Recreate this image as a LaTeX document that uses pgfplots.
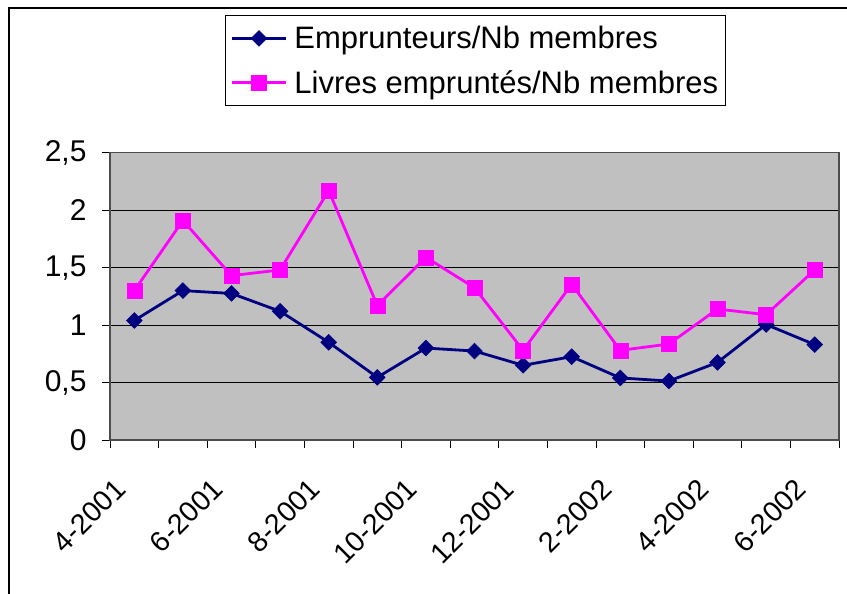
\documentclass[border=0pt]{standalone}
\usepackage{pgfplots}
\pgfplotsset{compat=1.18}
\usepackage{fontspec}
\setmainfont{Liberation Sans}
\definecolor{navyc}{RGB}{0,0,128}
\definecolor{magc}{RGB}{255,0,255}
\definecolor{bgc}{RGB}{192,192,192}
\begin{document}
\begin{tikzpicture}
\useasboundingbox (0pt,0pt) rectangle (847pt,594pt);
\draw[line width=1.5pt] (9pt,0pt) -- (9pt,586pt) -- (847pt,586pt);
\begin{axis}[
  at={(110pt,154pt)}, anchor=south west,
  scale only axis, width=729pt, height=287.3pt,
  xmin=-0.5, xmax=14.5, ymin=0, ymax=2.5,
  axis background/.style={fill=bgc},
  axis line style={draw=gray!60!black, line width=1.5pt},
  xtick={0,2,...,14},
  xticklabels={4-2001,6-2001,8-2001,10-2001,12-2001,2-2002,4-2002,6-2002},
  minor xtick={-0.5,0.5,...,14.5},
  major x tick style={draw=none},
  minor x tick style={black, line width=0.8pt},
  minor tick length=8pt,
  xtick pos=bottom, ytick pos=left, tick align=outside,
  ytick={0,0.5,...,2.5},
  major y tick style={black, line width=0.8pt},
  major tick length=8pt,
  ymajorgrids, grid style={black, line width=0.8pt},
  /pgf/number format/use comma,
  /pgf/number format/assume math mode=true,
  yticklabel style={font=\fontsize{30}{36}\selectfont, xshift=-12pt},
  xticklabel style={font=\fontsize{28.5}{34}\selectfont, xshift=-21pt, yshift=-29pt, rotate=45, anchor=north east, inner sep=0pt},
  legend style={at={(0.158,1.479)}, anchor=north west, draw=black, line width=0.8pt,
    font=\fontsize{31}{36}\selectfont, inner xsep=5pt, inner ysep=9pt, row sep=16pt,
    legend cell align=left,
    /tikz/every odd column/.append style={column sep=5pt}},
  legend image code/.code={\draw[mark repeat=2,mark phase=2,#1] plot coordinates {(0pt,0pt) (27pt,0pt) (54pt,0pt)};},
]
\addplot[navyc, line width=2.8pt, mark=square*, mark size=5.6pt, mark options={rotate=45, solid, fill=navyc, line width=0.5pt}]
 coordinates {(0,1.04) (1,1.30) (2,1.275) (3,1.12) (4,0.85) (5,0.545) (6,0.80) (7,0.774) (8,0.65) (9,0.725) (10,0.54) (11,0.513) (12,0.675) (13,1.005) (14,0.83)};
\addlegendentry{Emprunteurs/Nb membres}
\addplot[magc, line width=2.8pt, mark=square*, mark size=7.5pt, mark options={solid, fill=magc, line width=0.5pt}]
 coordinates {(0,1.30) (1,1.91) (2,1.43) (3,1.48) (4,2.17) (5,1.17) (6,1.59) (7,1.325) (8,0.78) (9,1.355) (10,0.78) (11,0.835) (12,1.14) (13,1.09) (14,1.48)};
\addlegendentry{Livres empruntés/Nb membres}
\end{axis}
\end{tikzpicture}
\end{document}
